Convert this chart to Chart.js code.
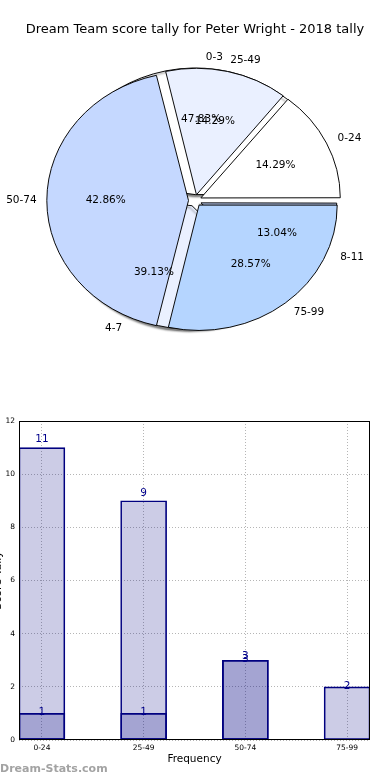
<!DOCTYPE html>
<html>
<head>
<meta charset="utf-8">
<script src="https://cdn.jsdelivr.net/npm/chart.js@4.4.0/dist/chart.umd.min.js"></script>
<style>
  body { margin: 0; width: 390px; height: 780px; overflow: hidden; background: #fff; position: relative; }
  canvas { position: absolute; }
  #pieBack, #pieFront { left: 0; top: 0; }
  #bars { left: -12px; top: 400px; }
  .stamp { position: absolute; left: 0; top: 762px; font: bold 11px "DejaVu Sans"; color: #a3a3a3; }
</style>
</head>
<body>
<canvas id="pieBack" width="390" height="400"></canvas>
<canvas id="pieFront" width="390" height="400"></canvas>
<canvas id="bars" width="402" height="380"></canvas>
<div class="stamp">Dream-Stats.com</div>
<script>
let scoreLabels = ['0-24', '25-49', '50-74', '75-99'];
let scoreTally = [1, 1, 3, 2];
let dartLabels = ['0-3', '4-7', '8-11'];
let dartTally = [11, 9, 3];

let pieColors = ['#ffffff', '#eaf0ff', '#c5d8ff', '#b5d5ff'];
const ySquash = 0.907; // matplotlib pie wasn't drawn with equal axes
const pieR = 138;

Chart.defaults.font.family = '"DejaVu Sans"';
Chart.defaults.color = '#000';

// squash the pie into an ellipse (and optionally give it a shadow)
const squash = {
  id: 'squash',
  beforeDatasetsDraw(chart, args, opts) {
    let ctx = chart.ctx;
    let a = chart.getDatasetMeta(0).data[0];
    ctx.save();
    ctx.translate(a.x, a.y);
    ctx.scale(1, ySquash);
    ctx.translate(-a.x, -a.y);
    if (opts.shadow) {
      ctx.shadowColor = 'rgba(0,0,0,0.5)';
      ctx.shadowOffsetX = -2;
      ctx.shadowOffsetY = 2;
      ctx.shadowBlur = 2;
    }
  },
  afterDatasetsDraw(chart) {
    chart.ctx.restore();
  }
};

function pieText(ctx, chart) {
  let labels = chart.data.labels;
  let values = chart.data.datasets[0].data;
  let total = values.reduce((a, b) => a + b, 0);
  chart.getDatasetMeta(0).data.forEach((arc, i) => {
    let mid = (arc.startAngle + arc.endAngle) / 2;
    let d = arc.options.offset / 4;
    let px = k => arc.x + Math.cos(mid) * (d + k * pieR);
    let py = k => arc.y + Math.sin(mid) * (d + k * pieR) * ySquash;
    ctx.textBaseline = 'middle';
    ctx.textAlign = Math.cos(mid) > 0 ? 'left' : 'right';
    ctx.fillText(labels[i], px(1.1), py(1.1));
    ctx.textAlign = 'center';
    ctx.fillText((values[i] / total * 100).toFixed(2) + '%', px(0.6), py(0.6));
  });
}

function pieConfig(labels, values, colors, radius, extra) {
  // matplotlib goes counter-clockwise from 3 o'clock, so reverse and start at 90deg
  return {
    type: 'pie',
    data: {
      labels: labels.slice().reverse(),
      datasets: [{
        data: values.slice().reverse(),
        backgroundColor: colors.slice(0, values.length).reverse(),
        borderColor: '#000',
        borderWidth: 1,
        offset: 26,
        clip: false
      }]
    },
    options: Object.assign({
      responsive: false,
      animation: false,
      events: [],
      rotation: 90,
      radius: radius
    }, extra),
    plugins: [squash]
  };
}

// back pie is a bit smaller: chart.js grows wide exploded arcs
let backChart = new Chart(document.getElementById('pieBack'), pieConfig(dartLabels, dartTally, pieColors, pieR - 4, {
  layout: { padding: { top: 47.6, bottom: 46.6 } },
  plugins: { legend: { display: false }, tooltip: { enabled: false }, squash: { shadow: true } }
}));

let frontCfg = pieConfig(scoreLabels, scoreTally, pieColors, pieR, {
  layout: { padding: { bottom: 46.6 } },
  plugins: {
    legend: { display: false },
    tooltip: { enabled: false },
    squash: { shadow: false },
    title: {
      display: true,
      text: 'Dream Team score tally for Peter Wright - 2018 tally',
      font: { size: 13, weight: 'normal' },
      color: '#000',
      padding: { top: 22, bottom: 10 }
    }
  }
});
frontCfg.plugins.push({
  id: 'pieText',
  afterDraw(chart) {
    let ctx = chart.ctx;
    ctx.save();
    ctx.font = '10.5px "DejaVu Sans"';
    ctx.fillStyle = '#000';
    pieText(ctx, backChart);
    pieText(ctx, chart);
    ctx.restore();
  }
});
new Chart(document.getElementById('pieFront'), frontCfg);

// bar chart
const barText = {
  id: 'barText',
  afterDatasetsDraw(chart) {
    let ctx = chart.ctx, y = chart.scales.y;
    ctx.save();
    ctx.font = '10.5px "DejaVu Sans"';
    ctx.fillStyle = '#00008b';
    ctx.textAlign = 'center';
    ctx.textBaseline = 'alphabetic';
    chart.data.datasets.forEach((ds, k) => {
      chart.getDatasetMeta(k).data.forEach((bar, i) => {
        let v = ds.data[i].y;
        let yy = k === 0 ? y.getPixelForValue(v * 1.02) : y.getPixelForValue(v) + 2;
        ctx.fillText(v, bar.x, yy);
      });
    });
    let a = chart.chartArea;
    ctx.strokeStyle = '#000';
    ctx.lineWidth = 1;
    ctx.strokeRect(a.left + 0.5, a.top + 0.5, a.right - a.left - 1, a.bottom - a.top - 1);
    ctx.restore();
  }
};

let barStyle = {
  backgroundColor: 'rgba(0,0,128,0.2)',
  borderColor: '#000080',
  borderWidth: 1,
  borderSkipped: false,
  barThickness: 46,
  grouped: false
};

new Chart(document.getElementById('bars'), {
  type: 'bar',
  data: {
    datasets: [
      Object.assign({ data: dartTally.map((v, i) => ({ x: i, y: v })) }, barStyle),
      Object.assign({ data: scoreTally.map((v, i) => ({ x: i, y: v })) }, barStyle)
    ]
  },
  options: {
    responsive: false,
    animation: false,
    events: [],
    layout: { padding: { top: 21, right: 20 } },
    plugins: { legend: { display: false }, tooltip: { enabled: false } },
    scales: {
      x: {
        type: 'linear',
        offset: false,
        min: -0.225,
        max: 3.225,
        afterBuildTicks: s => { s.ticks = scoreLabels.map((l, i) => ({ value: i })); },
        afterFit: s => { s.height = 40; },
        ticks: { callback: v => scoreLabels[v], font: { size: 7.5 }, color: '#000', padding: 4, maxRotation: 0, autoSkip: false },
        grid: { color: '#b5b5b5', drawTicks: false, offset: false },
        border: { display: false, dash: [1, 2] },
        title: { display: true, text: 'Frequency', font: { size: 10.5 }, color: '#000', padding: { top: 0, bottom: 14 } }
      },
      y: {
        min: 0,
        max: 12,
        afterFit: s => { s.width = 31; },
        ticks: { stepSize: 2, font: { size: 7.5 }, color: '#000', padding: 4 },
        grid: { color: '#b5b5b5', drawTicks: false },
        border: { display: false, dash: [1, 2] },
        title: { display: true, text: 'Score Tally', font: { size: 11 }, color: '#000', padding: { top: 4, bottom: 0 } }
      }
    }
  },
  plugins: [barText]
});
</script>
</body>
</html>
